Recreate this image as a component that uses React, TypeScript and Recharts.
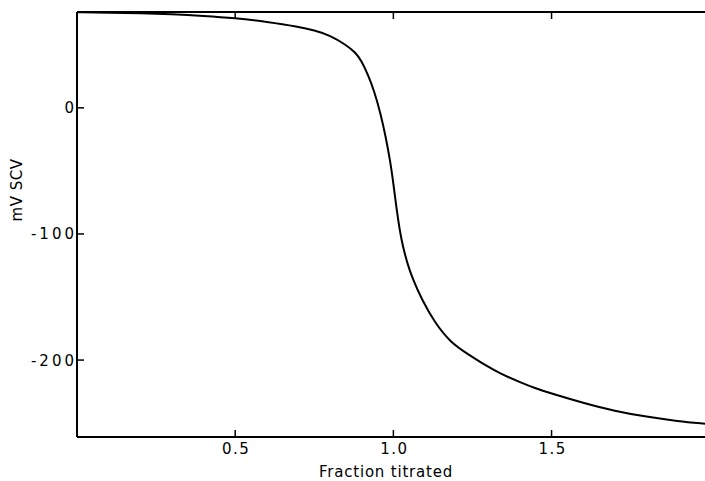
import React from "react";
import { LineChart, Line, XAxis, YAxis } from "recharts";

const fraction = [0, 0.1, 0.2, 0.3, 0.4, 0.5, 0.6, 0.7, 0.75, 0.8, 0.85, 0.88, 0.9, 0.92, 0.94, 0.96, 0.975, 0.99, 1.0, 1.01, 1.02, 1.03, 1.045, 1.06, 1.09, 1.13, 1.18, 1.24, 1.29, 1.34, 1.4, 1.45, 1.5, 1.6, 1.7, 1.8, 1.9, 1.985];
const mV = [75.9, 75.5, 75, 74.3, 73, 71.2, 68.2, 64.3, 61.5, 57.5, 50, 44, 37, 26, 13, -5, -22, -42, -60, -80, -97, -110, -124, -135, -152, -170, -186, -196, -204, -211, -217.5, -222.5, -226.5, -234, -240.5, -245, -248.5, -250.5];
const xTicks = [0.5, 1.0, 1.5];
const yTicks = [0, -100, -200];

const data = fraction.map((f, i) => ({ f, v: mV[i] }));

const FONT = "'DejaVu Sans', sans-serif";

const BottomTick = (p: any) => (
  <g>
    <line x1={p.x} x2={p.x} y1={p.y} y2={p.y - 7} stroke="#000" strokeWidth={1.5} />
    <text x={p.x + 1} y={p.y + 17} textAnchor="middle" fontFamily={FONT} fontSize={15} letterSpacing={1.5} fill="#000">
      {Number(p.payload.value).toFixed(1)}
    </text>
  </g>
);
const TopTick = (p: any) => (
  <line x1={p.x} x2={p.x} y1={p.y} y2={p.y + 7} stroke="#000" strokeWidth={1.5} />
);
const LeftTick = (p: any) => (
  <g>
    <line x1={p.x} x2={p.x + 7} y1={p.y} y2={p.y} stroke="#000" strokeWidth={1.5} />
    <text x={p.x} y={p.y + 5.5} textAnchor="end" fontFamily={FONT} fontSize={15} letterSpacing={3} fill="#000">
      {String(p.payload.value)}
    </text>
  </g>
);
const RightTick = (p: any) => (
  <line x1={p.x} x2={p.x - 7} y1={p.y} y2={p.y} stroke="#000" strokeWidth={1.5} />
);

const XTitle = (p: any) => {
  const vb = p.viewBox;
  return (
    <text x={386} y={vb.y + 40} textAnchor="middle" fontFamily={FONT} fontSize={15} letterSpacing={0.8} fill="#000">
      Fraction titrated
    </text>
  );
};
const YTitle = () => {
  const cx = 22;
  const cy = 190;
  return (
    <text x={cx} y={cy} transform={`rotate(-90, ${cx}, ${cy})`} textAnchor="middle" fontFamily={FONT} fontSize={15} letterSpacing={0.5} fill="#000">
      mV SCV
    </text>
  );
};

export default function App() {
  return (
    <div style={{ position: "absolute", left: 0, top: 0, background: "#fff" }}>
      <LineChart width={705} height={481} data={data} margin={{ top: 0, right: 0, bottom: 0, left: 0 }}>
        <XAxis
          dataKey="f"
          type="number"
          domain={[0, 1.985]}
          allowDataOverflow
          ticks={xTicks}
          tickSize={0}
          tickMargin={0}
          tick={<BottomTick />}
          height={44}
          axisLine={{ stroke: "#000", strokeWidth: 2 }}
          tickLine={false}
          label={<XTitle />}
        />
        <XAxis
          xAxisId="top"
          orientation="top"
          dataKey="f"
          type="number"
          domain={[0, 1.985]}
          allowDataOverflow
          ticks={xTicks}
          tickSize={0}
          tickMargin={0}
          tick={<TopTick />}
          height={12}
          axisLine={{ stroke: "#000", strokeWidth: 2 }}
          tickLine={false}
        />
        <YAxis
          type="number"
          domain={[-261, 76]}
          allowDataOverflow
          ticks={yTicks}
          tickSize={0}
          tickMargin={0}
          tick={<LeftTick />}
          width={77}
          axisLine={{ stroke: "#000", strokeWidth: 2 }}
          tickLine={false}
          label={<YTitle />}
        />
        <YAxis
          yAxisId="right"
          orientation="right"
          type="number"
          domain={[-261, 76]}
          allowDataOverflow
          ticks={yTicks}
          tickSize={0}
          tickMargin={0}
          tick={<RightTick />}
          width={0}
          axisLine={false}
          tickLine={false}
        />
        <Line
          dataKey="v"
          type="basis"
          stroke="#000"
          strokeWidth={2}
          dot={false}
          isAnimationActive={false}
        />
        <Line
          dataKey="v"
          xAxisId="top"
          yAxisId="right"
          type="basis"
          stroke="none"
          dot={false}
          activeDot={false}
          isAnimationActive={false}
        />
      </LineChart>
    </div>
  );
}
